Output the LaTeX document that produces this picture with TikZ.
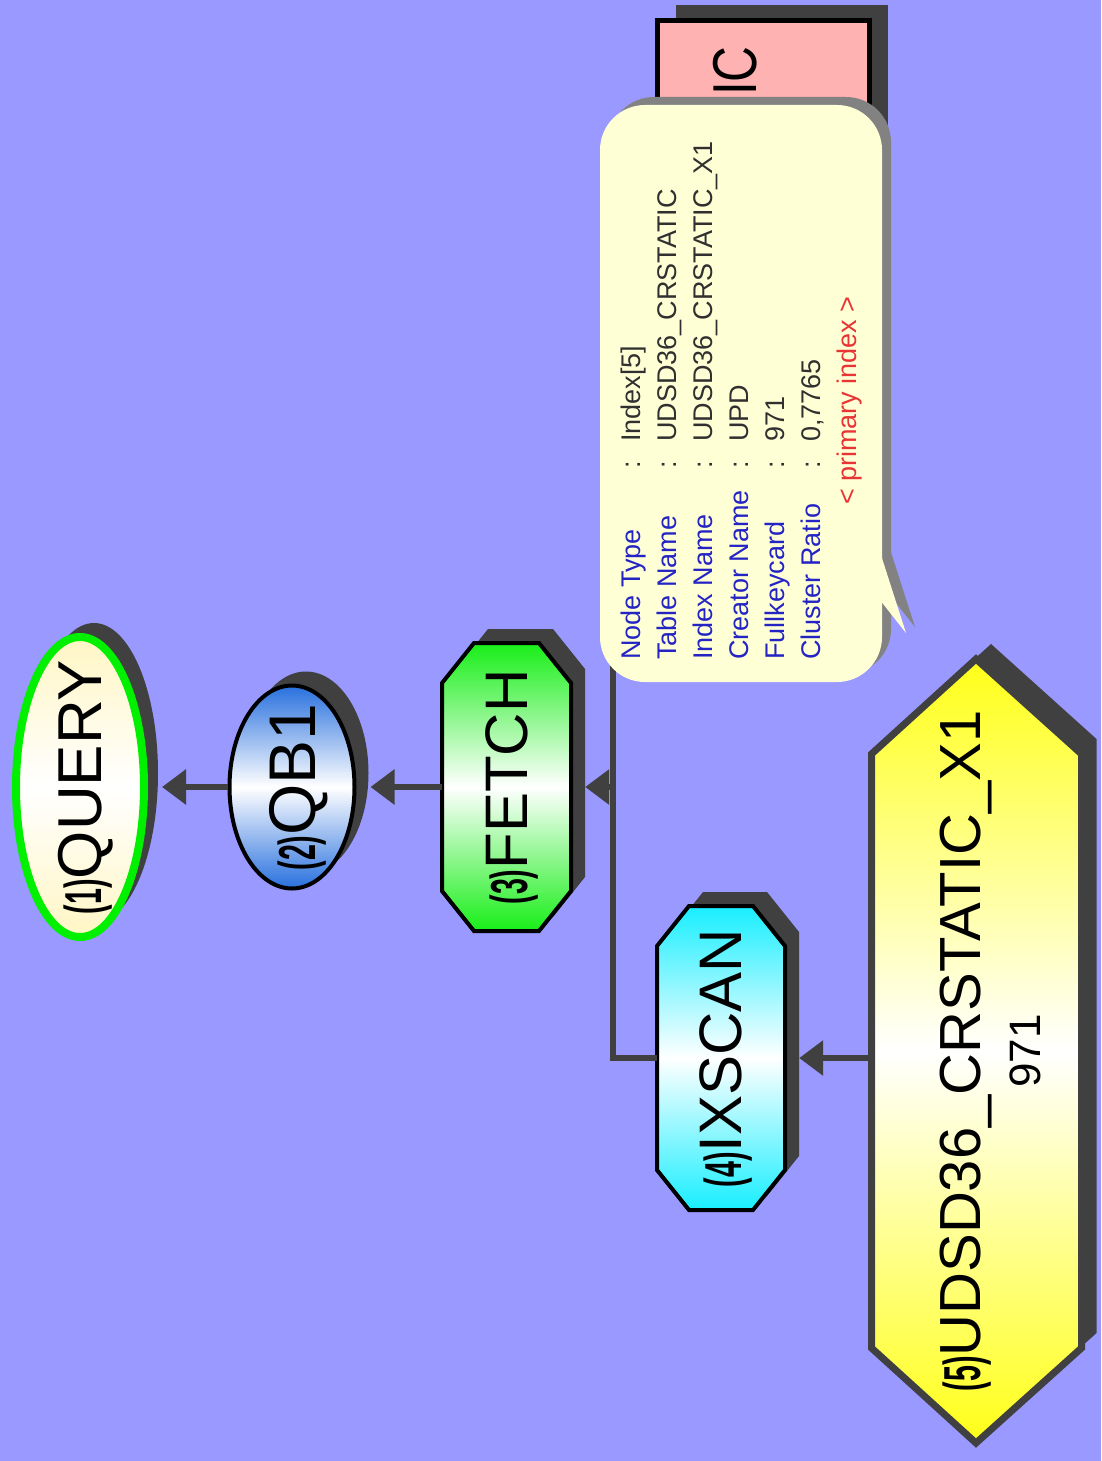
\documentclass[tikz,border=0pt]{standalone}
\usepackage{fontspec}
\setmainfont{Liberation Sans}
\usetikzlibrary{shapes.geometric,shadows,arrows.meta,positioning}

\definecolor{canvasblue}{RGB}{153,153,255}
\definecolor{shadowgray}{RGB}{64,64,64}
\definecolor{querycream}{RGB}{255,246,196}
\definecolor{querygreen}{RGB}{0,240,0}
\definecolor{qbblue}{RGB}{40,112,222}
\definecolor{fetchgreen}{RGB}{24,238,24}
\definecolor{scancyan}{RGB}{24,238,255}
\definecolor{indexyellow}{RGB}{255,255,24}
\definecolor{tablepink}{RGB}{255,178,178}
\definecolor{tipcream}{RGB}{255,255,214}
\definecolor{tipgray}{RGB}{130,130,130}
\definecolor{tipblue}{RGB}{36,36,196}
\definecolor{tipred}{RGB}{232,52,52}
\definecolor{tipdark}{RGB}{48,48,48}

\newcommand{\stepno}[1]{\scalebox{0.55}[1]{\fontsize{52}{52}\selectfont\bfseries(#1)}}
% rotated label; #3 pushes the text to the right of the centre
\newcommand{\uptext}[3]{\rotatebox{90}{\raisebox{0pt}[\height][\dimexpr\depth-#3\relax]{\makebox[#1]{#2}}}}
\newcommand{\tiprow}[2]{\makebox[191pt][l]{\color{tipblue}#1}\makebox[27pt][l]{:}#2}

\begin{document}
\begin{tikzpicture}[x=1pt, y=-1pt]
    \tikzstyle{every node} = [inner sep=0pt, font=\fontsize{60}{60}\selectfont]
    \tikzstyle{opnode} = [draw=black, line width=4pt, drop shadow={shadow xshift=14pt, shadow yshift=14pt, fill=shadowgray, opacity=1}]
    \tikzstyle{octpath} = [draw=black, line width=4pt, preaction={fill=shadowgray, transform canvas={xshift=14pt, yshift=14pt}}]
    \tikzstyle{link} = [draw=shadowgray, line width=6pt, shorten >=14pt, -{Triangle[length=24pt, width=34pt]}]
    \tikzstyle{plainlink} = [draw=shadowgray, line width=6pt]

    \fill[canvasblue] (0,0) rectangle (1101,1461);
    \useasboundingbox (0,0) rectangle (1101,1461);

    % table box, mostly covered by the tooltip
    \node[draw=black, line width=5pt, fill=tablepink, minimum width=212pt, minimum height=310pt,
          drop shadow={shadow xshift=18pt, shadow yshift=15pt, fill=shadowgray, opacity=1}] (tab) at (763.5,175.5) {};
    \node[rotate=90, anchor=east, font=\fontsize{62}{62}\selectfont] (tabname) at (735,46) {\scalebox{0.8}[1]{IC}};

    % plan operators
    \node[opnode, ellipse, draw=querygreen, line width=8pt, top color=querycream, bottom color=querycream, middle color=white,
          minimum width=128pt, minimum height=300pt, font=\fontsize{62}{62}\selectfont] (query) at (80,787)
          {\uptext{120pt}{\stepno{1}QUERY}{40pt}};
    \node[opnode, ellipse, top color=qbblue, bottom color=qbblue, middle color=white,
          minimum width=125pt, minimum height=203pt, font=\fontsize{66}{66}\selectfont, node distance=212pt, right of=query] (qb)
          {\uptext{100pt}{\stepno{2}QB1}{56pt}};

    \path[octpath, top color=fetchgreen, bottom color=fetchgreen, middle color=white]
        (474,643) -- (539,643) -- (571,683) -- (571,891) -- (539,931) -- (474,931) -- (442,891) -- (442,683) -- cycle;
    \node[minimum width=129pt, minimum height=288pt] (fetch) at (506.5,787) {\uptext{200pt}{\stepno{3}FETCH}{62pt}};

    \path[octpath, top color=scancyan, bottom color=scancyan, middle color=white]
        (689,906) -- (753,906) -- (785,946) -- (785,1170) -- (753,1210) -- (689,1210) -- (657,1170) -- (657,946) -- cycle;
    \node[minimum width=128pt, minimum height=304pt] (ixscan) at (721,1058) {\uptext{200pt}{\stepno{4}IXSCAN}{62pt}};

    % index hexagon
    \path[draw=shadowgray, line width=7pt, top color=indexyellow, bottom color=indexyellow, middle color=white,
          preaction={fill=shadowgray, transform canvas={xshift=15pt, yshift=15pt}}]
        (976,659) -- (871.5,754) -- (871.5,1348) -- (976,1443) -- (1081.5,1348) -- (1081.5,754) -- cycle;
    \node[minimum width=214pt, minimum height=784pt, font=\fontsize{58}{60}\selectfont] (idx) at (976,1051)
        {\rotatebox{90}{\raisebox{0pt}[\height][\dimexpr\depth-44pt\relax]{\begin{tabular}{@{}c@{}}\stepno{5}UDSD36\_CRSTATIC\_X1\\ \fontsize{44}{44}\selectfont 971\end{tabular}}}};

    \coordinate (split) at (613,787);
    \draw[link] (qb.west) -- (query.east);
    \draw[link] (fetch.west) -- (qb.east);
    \draw[plainlink] (tab.west) -| (split);
    \draw[link] (ixscan.west) -| (split) -- (fetch.east);
    \draw[link] (idx.west |- ixscan.east) -- (ixscan.east);

    % tooltip
    \fill[tipcream, rounded corners=45pt, preaction={fill=tipgray, transform canvas={xshift=9pt, yshift=8pt}}]
        (600,105) rectangle (882,682);
    \fill[tipcream, preaction={fill=tipgray, transform canvas={xshift=9pt, yshift=6pt}}]
        (880,552) -- (906,633) -- (880,600) -- cycle;
    \node[rotate=90, anchor=north west, align=left, font=\fontsize{27}{36}\selectfont, text=tipdark] (tipinfo) at (621,660) {%
        \tiprow{Node Type}{Index[5]}\\
        \tiprow{Table Name}{UDSD36\_CRSTATIC}\\
        \tiprow{Index Name}{UDSD36\_CRSTATIC\_X1}\\
        \tiprow{Creator Name}{UPD}\\
        \tiprow{Fullkeycard}{971}\\
        \tiprow{Cluster Ratio}{0,7765}\\
        \hspace*{155pt}{\color{tipred}< primary index >}};
\end{tikzpicture}
\end{document}
